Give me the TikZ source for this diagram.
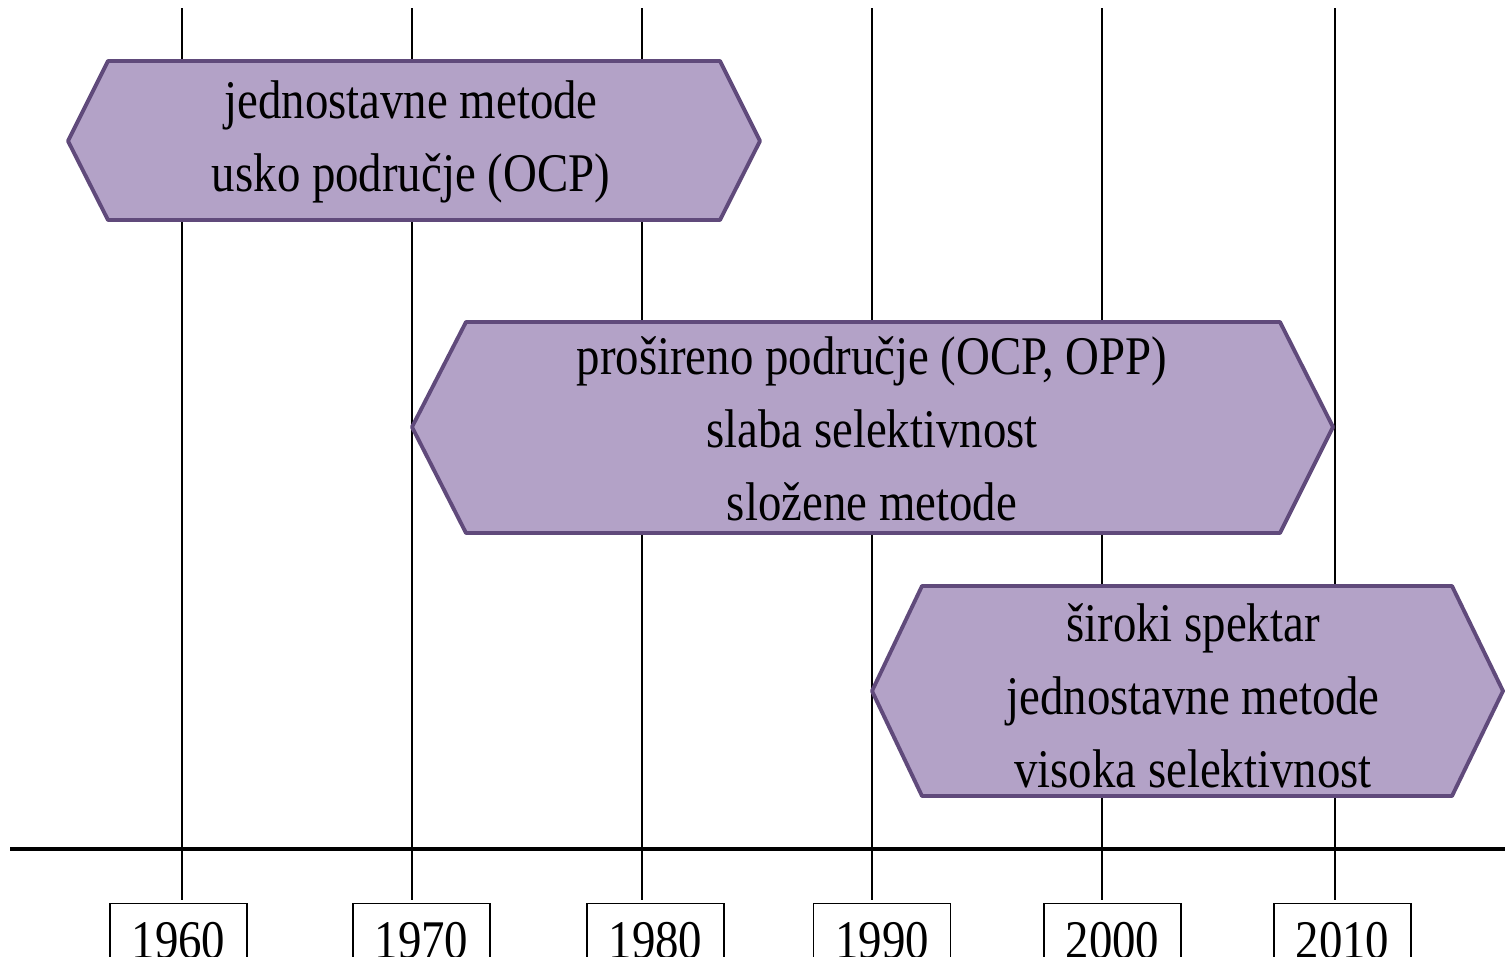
\documentclass[tikz,border=0pt]{standalone}
\usepackage{fontspec}
\setmainfont{Liberation Serif}[FakeStretch=0.86]
\definecolor{phasefill}{HTML}{B3A2C7}
\definecolor{phaseline}{HTML}{604A7B}
\tikzset{
    phase/.style={draw=phaseline, fill=phasefill, line width=2.2pt, line join=round},
    phasetext/.style={align=center, inner sep=0pt, font=\fontsize{31}{41.4}\selectfont},
    yearbox/.style={draw, line width=0.6pt, anchor=north, inner sep=0pt,
        minimum width=2.74cm, text height=1.09cm, text depth=0.4cm,
        font=\fontsize{31}{37}\selectfont},
    yearline/.style={line width=1.1pt},
    axisline/.style={line width=2pt}
}
\begin{document}
\begin{tikzpicture}[x=0.02cm, y=-0.02cm]
    \useasboundingbox (0,0) rectangle (1505,957);
    \foreach \x/\c/\yr in {182/178.5/1960, 412/421.5/1970, 642/655.5/1980,
                           872/882/1990, 1102/1112.5/2000, 1335/1342.5/2010}
    {
      \draw[yearline] (\x,8) -- (\x,900);
      \node[yearbox] (y\yr) at (\c,903) {\yr};
    }
    \draw[phase] (68,141) -- (108,61) -- (720,61) -- (760,141) -- (720,220) -- (108,220) -- cycle;
    \node[phasetext] (narrow) at (411,142) {jednostavne metode\\usko područje (OCP)};
    \draw[phase] (412,427) -- (466,322) -- (1280,322) -- (1333,427) -- (1280,533) -- (466,533) -- cycle;
    \node[phasetext] (wide) at (872,429) {prošireno područje (OCP, OPP)\\slaba selektivnost\\složene metode};
    \draw[phase] (872,691) -- (922,586) -- (1452,586) -- (1503,691) -- (1452,796) -- (922,796) -- cycle;
    \node[phasetext] (broad) at (1193,696) {široki spektar\\jednostavne metode\\visoka selektivnost};
    \draw[axisline] (10,849) -- (1505,849);
\end{tikzpicture}
\end{document}
